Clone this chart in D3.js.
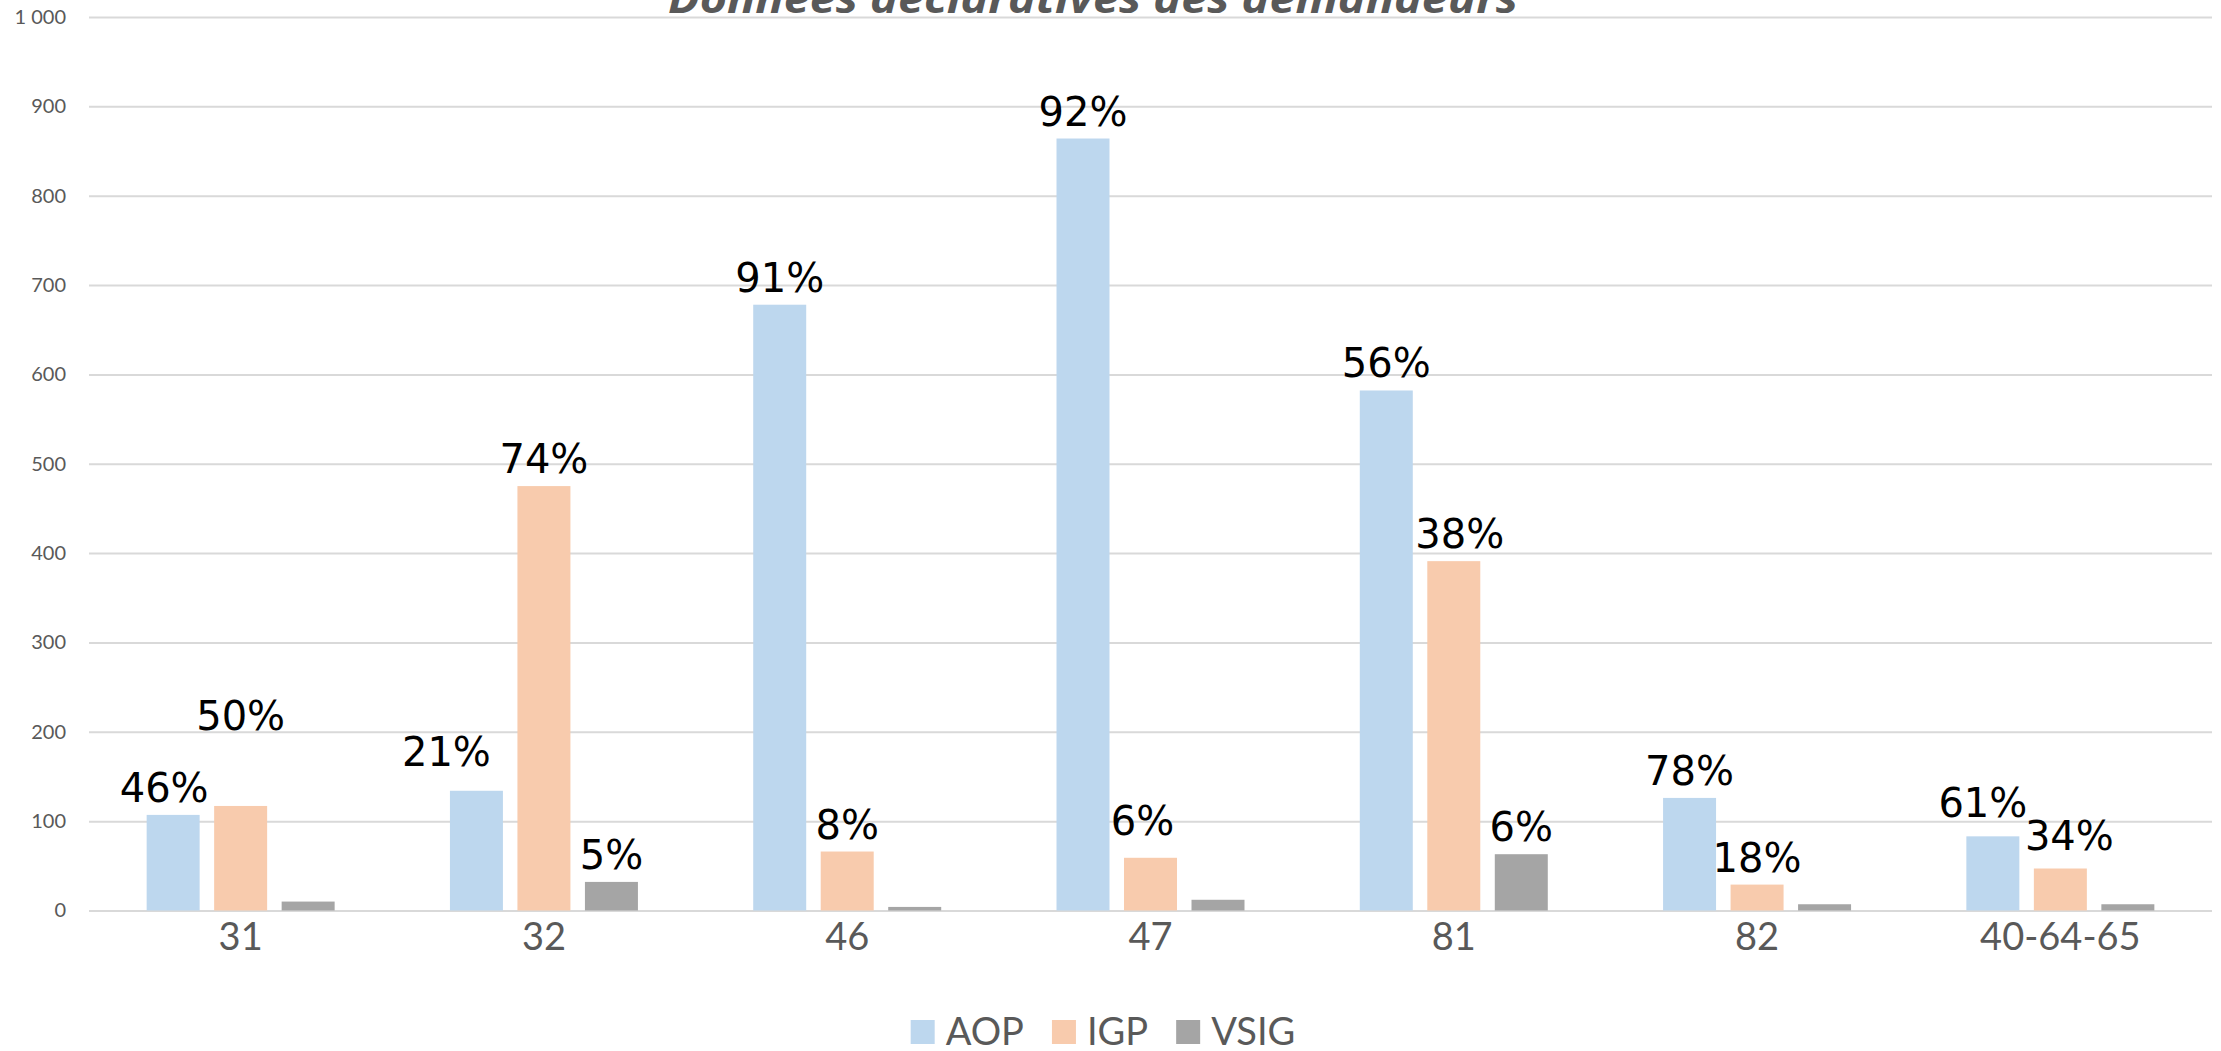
<!DOCTYPE html>
<html>
<head>
<meta charset="utf-8">
<script src="https://cdn.jsdelivr.net/npm/d3@7"></script>
<style>
  body { margin: 0; background: #fff; }
  svg { display: block; }
</style>
</head>
<body>
<div id="chart"></div>
<script>
var categories = ["31", "32", "46", "47", "81", "82", "40-64-65"];
var seriesNames = ["AOP", "IGP", "VSIG"];
var aopValues = [107, 134, 678, 864, 582, 126, 83];
var igpValues = [117, 475, 66, 59, 391, 29, 47];
var vsigValues = [10, 32, 4, 12, 63, 7, 7];
var aopLabels = ["46%", "21%", "91%", "92%", "56%", "78%", "61%"];
var igpLabels = ["50%", "74%", "8%", "6%", "38%", "18%", "34%"];
var vsigLabels = [null, "5%", null, null, "6%", null, null];
var yTicks = [0, 100, 200, 300, 400, 500, 600, 700, 800, 900, 1000];
var titleText = "Données déclaratives des demandeurs";

// labels that were dragged by hand in the original
var labelMoves = {
    "31-AOP": [-9, 0],
    "31-IGP": [0, -63],
    "32-AOP": [-30, -12],
    "47-IGP": [-8, -10],
    "81-IGP": [6, 0],
    "40-64-65-AOP": [-10, -6],
    "40-64-65-IGP": [9, -6]
};

var colors = { AOP: "#bdd7ee", IGP: "#f8cbad", VSIG: "#a5a5a5" };

var W = 2221, H = 1051;
var margin = { top: 17, right: 9, bottom: 140.5, left: 89 };
var width = W - margin.left - margin.right,
    height = H - margin.top - margin.bottom;

var svg = d3.select("#chart").append("svg")
    .attr("width", W)
    .attr("height", H);

svg.append("rect").attr("width", W).attr("height", H).attr("fill", "#fff");

var g = svg.append("g")
    .attr("transform", "translate(" + margin.left + "," + margin.top + ")");

var x0 = d3.scaleBand().domain(categories).range([0, width]);
var x1 = d3.scaleBand().domain(seriesNames).range([0, x0.bandwidth()])
    .paddingInner(0.215).paddingOuter(0.854);
var y = d3.scaleLinear().domain([0, 1000]).range([height, 0]);

var frLocale = d3.formatLocale({ decimal: ",", thousands: " ", grouping: [3], currency: ["", ""] });
var fmt = frLocale.format(",");

// gridlines + y labels
var yAxis = g.append("g")
    .call(d3.axisLeft(y).tickValues(yTicks).tickSize(-width).tickPadding(23).tickFormat(fmt));
yAxis.select(".domain").remove();
yAxis.selectAll(".tick line").attr("stroke", "#d9d9d9").attr("stroke-width", 2);
yAxis.selectAll(".tick text")
    .attr("fill", "#595959")
    .style("font-family", "Lato, sans-serif")
    .style("font-size", "20px");

// x labels
var xAxis = g.append("g")
    .attr("transform", "translate(0," + height + ")")
    .call(d3.axisBottom(x0).tickSize(0).tickPadding(13));
xAxis.select(".domain").remove();
xAxis.selectAll(".tick text")
    .attr("fill", "#595959")
    .style("font-family", "Lato, sans-serif")
    .style("font-size", "38px");

var rows = categories.map(function(c, i) {
    return [
        { cat: c, s: "AOP", v: aopValues[i], lab: aopLabels[i] },
        { cat: c, s: "IGP", v: igpValues[i], lab: igpLabels[i] },
        { cat: c, s: "VSIG", v: vsigValues[i], lab: vsigLabels[i] }
    ];
});

var groups = g.selectAll(".grp")
    .data(rows)
    .enter().append("g")
    .attr("class", "grp")
    .attr("transform", function(d) { return "translate(" + x0(d[0].cat) + ",0)"; });

groups.selectAll("rect")
    .data(function(d) { return d; })
    .enter().append("rect")
    .attr("x", function(d) { return x1(d.s); })
    .attr("y", function(d) { return y(d.v); })
    .attr("width", x1.bandwidth())
    .attr("height", function(d) { return y(0) - y(d.v); })
    .attr("fill", function(d) { return colors[d.s]; });

groups.selectAll("text.lab")
    .data(function(d) { return d.filter(function(e) { return e.lab; }); })
    .enter().append("text")
    .attr("class", "lab")
    .attr("x", function(d) {
        var m = labelMoves[d.cat + "-" + d.s];
        return x1(d.s) + x1.bandwidth() / 2 + (m ? m[0] : 0);
    })
    .attr("y", function(d) {
        var m = labelMoves[d.cat + "-" + d.s];
        return y(d.v) - 13 + (m ? m[1] : 0);
    })
    .attr("text-anchor", "middle")
    .attr("fill", "#000")
    .style("font-family", "'DejaVu Sans', sans-serif")
    .style("font-size", "40px")
    .text(function(d) { return d.lab; });

// title, cut at the top like the original
svg.append("text")
    .attr("x", 1093)
    .attr("y", 13)
    .attr("text-anchor", "middle")
    .attr("fill", "#595959")
    .attr("textLength", 850)
    .attr("lengthAdjust", "spacingAndGlyphs")
    .style("font-family", "'Open Sans', sans-serif")
    .style("font-style", "italic")
    .style("font-weight", "bold")
    .style("font-size", "42px")
    .text(titleText);

// legend
var legend = svg.append("g").attr("class", "legend");
var lx = 0;
seriesNames.forEach(function(s) {
    var item = legend.append("g").attr("transform", "translate(" + lx + ",0)");
    item.append("rect")
        .attr("x", 0).attr("y", -12)
        .attr("width", 24).attr("height", 24)
        .attr("fill", colors[s]);
    var t = item.append("text")
        .attr("x", 35).attr("y", 13)
        .attr("fill", "#595959")
        .style("font-family", "Lato, sans-serif")
        .style("font-size", "38px")
        .text(s);
    lx += 35 + t.node().getComputedTextLength() + 28;
});
var legendW = lx - 28;
legend.attr("transform", "translate(" + (1103 - legendW / 2) + ",1032)");
</script>
</body>
</html>
